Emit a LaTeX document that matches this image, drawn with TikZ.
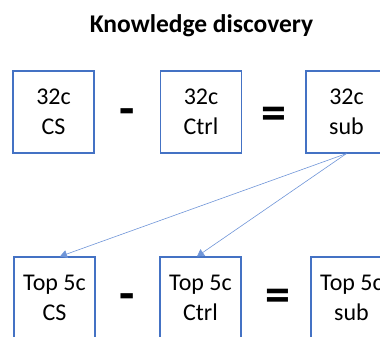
\documentclass[tikz,border=0pt]{standalone}
\usepackage{fontspec}
\setmainfont{Carlito}
\usetikzlibrary{arrows.meta}
\definecolor{boxblue}{HTML}{4472C4}
\definecolor{arrowblue}{HTML}{6F95D8}

\begin{document}
\begin{tikzpicture}[x=1pt,y=-1pt]
   \tikzstyle{every node}=[font=\fontsize{24}{30}\selectfont]
   \tikzstyle{cbox}=[draw=boxblue, line width=1.1pt, minimum width=81pt, minimum height=82pt, inner sep=0pt, align=center]
   \tikzstyle{op}=[font=\fontsize{50}{50}\selectfont\bfseries, inner sep=0pt]
   \tikzstyle{link}=[arrowblue, line width=0.6pt, -{Triangle[length=7pt,width=8pt]}]

\useasboundingbox (0,0) rectangle (380,337);
\clip (0,0) rectangle (380,337);

\node[font=\fontsize{25.5}{30}\selectfont\bfseries, anchor=base] (title) at (201.5,32.5) {Knowledge discovery};

\node[cbox] (cs32) at (53.5,112) {32c\\CS};
\node[op] (minus32) at (127,117) {-};
\node[cbox] (ctrl32) at (201,112) {32c\\Ctrl};
\node[op] (eq32) at (274,118) {=};
\node[cbox] (sub32) at (346.5,112) {32c\\sub};

\node[cbox] (cs5) at (54.5,298) {Top 5c\\CS};
\node[op] (minus5) at (127.5,302) {-};
\node[cbox] (ctrl5) at (200.5,298) {Top 5c\\Ctrl};
\node[op] (eq5) at (277.5,300.5) {=};
\node[cbox] (sub5) at (351.5,298) {Top 5c\\sub};

\draw[link] (sub32.south) -- ([xshift=5.5pt]cs5.north);
\draw[link] (sub32.south) -- ([xshift=-3.5pt]ctrl5.north);

\end{tikzpicture}
\end{document}
